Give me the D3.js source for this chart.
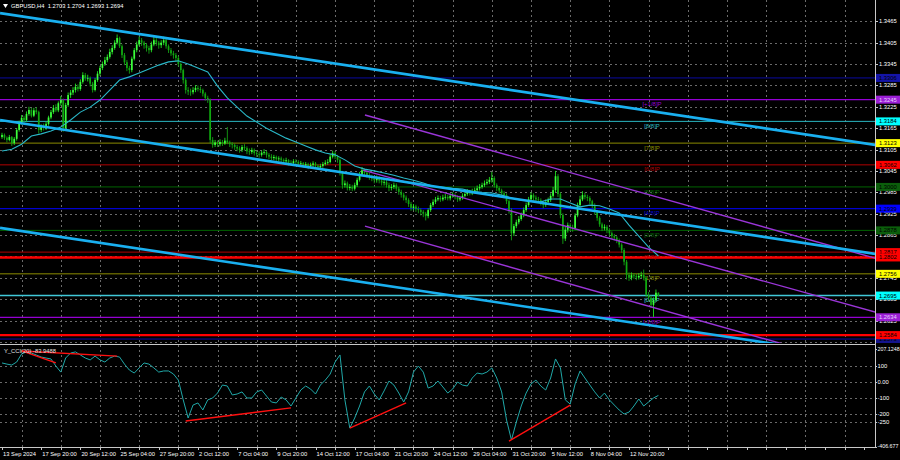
<!DOCTYPE html>
<html><head><meta charset="utf-8">
<script src="https://cdn.jsdelivr.net/npm/d3@7"></script>
<style>body{margin:0;background:#000;overflow:hidden}svg{display:block}text{font-family:"Liberation Sans",Arial,sans-serif}</style>
</head><body><svg id="c" width="900" height="460"></svg>
<script>
// ---------------- DATA ----------------
const symbolTitle = "GBPUSD,H4  1.2703 1.2704 1.2693 1.2694";
const cciTitle = "Y_CCI(20) -83.9488";
const firstOpen = 1.3140;
const closes = [
1.3146,1.3138,1.3132,1.3140,1.3123,1.3135,1.3160,1.3180,1.3194,1.3188,
1.3205,1.3216,1.3200,1.3215,1.3210,1.3160,1.3170,1.3165,1.3177,1.3195,
1.3210,1.3222,1.3215,1.3235,1.3244,1.3165,1.3230,1.3258,1.3265,1.3272,
1.3281,1.3275,1.3295,1.3314,1.3305,1.3306,1.3290,1.3272,1.3300,1.3318,
1.3334,1.3345,1.3356,1.3365,1.3379,1.3390,1.3405,1.3418,1.3395,1.3370,
1.3350,1.3334,1.3328,1.3360,1.3384,1.3400,1.3412,1.3405,1.3398,1.3390,
1.3384,1.3400,1.3412,1.3405,1.3398,1.3405,1.3412,1.3395,1.3384,1.3375,
1.3370,1.3362,1.3345,1.3328,1.3300,1.3272,1.3268,1.3266,1.3272,1.3278,
1.3275,1.3272,1.3262,1.3250,1.3245,1.3132,1.3118,1.3125,1.3120,1.3126,
1.3122,1.3130,1.3125,1.3120,1.3118,1.3112,1.3108,1.3104,1.3112,1.3109,
1.3100,1.3098,1.3104,1.3095,1.3092,1.3090,1.3096,1.3098,1.3090,1.3085,
1.3081,1.3084,1.3078,1.3080,1.3076,1.3072,1.3075,1.3068,1.3067,1.3072,
1.3070,1.3065,1.3067,1.3060,1.3064,1.3058,1.3062,1.3066,1.3060,1.3055,
1.3059,1.3064,1.3068,1.3070,1.3085,1.3095,1.3085,1.3076,1.3040,1.3005,
1.3010,1.2997,1.3000,1.2995,1.3005,1.3020,1.3035,1.3047,1.3040,1.3033,
1.3028,1.3024,1.3019,1.3025,1.3018,1.3012,1.3014,1.3005,1.2997,1.3000,
1.3005,1.2995,1.2986,1.2978,1.2970,1.2963,1.2952,1.2941,1.2945,1.2938,
1.2935,1.2930,1.2925,1.2918,1.2935,1.2949,1.2958,1.2965,1.2969,1.2965,
1.2970,1.2972,1.2968,1.2975,1.2977,1.2972,1.2965,1.2969,1.2975,1.2980,
1.2986,1.2982,1.2988,1.2991,1.2996,1.3000,1.3005,1.3010,1.3014,1.3020,
1.3025,1.3005,1.2997,1.2990,1.2982,1.2977,1.2960,1.2935,1.2870,1.2890,
1.2901,1.2910,1.2921,1.2935,1.2949,1.2965,1.2977,1.2970,1.2965,1.2963,
1.2955,1.2949,1.2958,1.2963,1.2975,1.2991,1.3030,1.2980,1.2921,1.2855,
1.2880,1.2893,1.2885,1.2884,1.2920,1.2949,1.2965,1.2977,1.2972,1.2969,
1.2960,1.2949,1.2930,1.2913,1.2895,1.2884,1.2888,1.2879,1.2870,1.2862,
1.2858,1.2851,1.2838,1.2823,1.2790,1.2753,1.2745,1.2752,1.2750,1.2746,
1.2750,1.2753,1.2745,1.2697,1.2689,1.2669,1.2683,1.2703,1.2694];
const highs = [
1.3152,1.3150,1.3142,1.3146,1.3143,1.3140,1.3165,1.3186,1.3202,1.3200,
1.3212,1.3225,1.3222,1.3222,1.3224,1.3214,1.3176,1.3178,1.3184,1.3200,
1.3216,1.3230,1.3232,1.3240,1.3255,1.3248,1.3236,1.3265,1.3272,1.3280,
1.3290,1.3288,1.3302,1.3322,1.3320,1.3315,1.3310,1.3295,1.3306,1.3325,
1.3340,1.3352,1.3365,1.3372,1.3388,1.3398,1.3412,1.3428,1.3422,1.3400,
1.3376,1.3356,1.3340,1.3366,1.3390,1.3408,1.3422,1.3418,1.3410,1.3404,
1.3396,1.3408,1.3425,1.3418,1.3410,1.3412,1.3422,1.3416,1.3400,1.3390,
1.3382,1.3376,1.3368,1.3350,1.3332,1.3305,1.3280,1.3276,1.3280,1.3286,
1.3285,1.3282,1.3276,1.3266,1.3256,1.3248,1.3140,1.3132,1.3130,1.3134,
1.3132,1.3138,1.3168,1.3130,1.3126,1.3122,1.3118,1.3114,1.3118,1.3120,
1.3114,1.3108,1.3110,1.3108,1.3102,1.3100,1.3102,1.3106,1.3102,1.3095,
1.3092,1.3090,1.3088,1.3086,1.3085,1.3080,1.3082,1.3078,1.3075,1.3078,
1.3078,1.3075,1.3073,1.3070,1.3070,1.3068,1.3068,1.3072,1.3070,1.3064,
1.3065,1.3070,1.3075,1.3078,1.3092,1.3102,1.3100,1.3090,1.3080,1.3045,
1.3018,1.3015,1.3008,1.3006,1.3012,1.3026,1.3042,1.3056,1.3052,1.3046,
1.3040,1.3034,1.3030,1.3032,1.3030,1.3024,1.3022,1.3020,1.3012,1.3008,
1.3012,1.3010,1.3000,1.2992,1.2984,1.2976,1.2968,1.2958,1.2952,1.2950,
1.2945,1.2940,1.2935,1.2930,1.2940,1.2955,1.2965,1.2972,1.2976,1.2975,
1.2978,1.2980,1.2978,1.2982,1.2985,1.2982,1.2976,1.2975,1.2982,1.2988,
1.2994,1.2992,1.2995,1.2998,1.3004,1.3008,1.3012,1.3018,1.3022,1.3028,
1.3042,1.3030,1.3010,1.3002,1.2995,1.2988,1.2982,1.2965,1.2940,1.2896,
1.2908,1.2918,1.2928,1.2942,1.2956,1.2972,1.2985,1.2982,1.2976,1.2972,
1.2968,1.2960,1.2965,1.2970,1.2982,1.3000,1.3045,1.3036,1.2985,1.2926,
1.2888,1.2900,1.2898,1.2894,1.2926,1.2956,1.2975,1.2988,1.2984,1.2978,
1.2974,1.2964,1.2954,1.2935,1.2918,1.2900,1.2895,1.2893,1.2884,1.2875,
1.2868,1.2862,1.2855,1.2842,1.2828,1.2795,1.2760,1.2760,1.2758,1.2756,
1.2758,1.2762,1.2768,1.2750,1.2705,1.2695,1.2690,1.2712,1.2704];
const lows = [
1.3135,1.3132,1.3125,1.3128,1.3115,1.3118,1.3130,1.3155,1.3175,1.3180,
1.3183,1.3200,1.3195,1.3196,1.3204,1.3150,1.3154,1.3158,1.3160,1.3172,
1.3190,1.3205,1.3210,1.3210,1.3228,1.3155,1.3160,1.3225,1.3250,1.3258,
1.3265,1.3268,1.3270,1.3290,1.3298,1.3296,1.3282,1.3265,1.3268,1.3295,
1.3312,1.3328,1.3340,1.3350,1.3360,1.3372,1.3385,1.3400,1.3390,1.3362,
1.3342,1.3325,1.3318,1.3322,1.3355,1.3378,1.3395,1.3396,1.3388,1.3380,
1.3374,1.3378,1.3395,1.3396,1.3388,1.3390,1.3398,1.3388,1.3376,1.3368,
1.3360,1.3352,1.3338,1.3320,1.3290,1.3262,1.3258,1.3256,1.3260,1.3266,
1.3268,1.3264,1.3254,1.3242,1.3236,1.3122,1.3110,1.3112,1.3112,1.3114,
1.3115,1.3118,1.3120,1.3112,1.3108,1.3104,1.3100,1.3096,1.3098,1.3102,
1.3092,1.3090,1.3092,1.3088,1.3084,1.3082,1.3085,1.3090,1.3082,1.3078,
1.3074,1.3075,1.3070,1.3072,1.3068,1.3064,1.3066,1.3060,1.3060,1.3062,
1.3063,1.3058,1.3059,1.3054,1.3055,1.3050,1.3052,1.3056,1.3053,1.3048,
1.3050,1.3054,1.3060,1.3062,1.3066,1.3080,1.3078,1.3068,1.3032,1.2995,
1.2998,1.2990,1.2990,1.2988,1.2990,1.3000,1.3015,1.3030,1.3032,1.3026,
1.3020,1.3016,1.3010,1.3012,1.3010,1.3004,1.3004,1.2998,1.2988,1.2990,
1.2994,1.2988,1.2978,1.2970,1.2962,1.2955,1.2944,1.2933,1.2934,1.2930,
1.2926,1.2920,1.2915,1.2906,1.2912,1.2930,1.2944,1.2952,1.2960,1.2958,
1.2960,1.2964,1.2962,1.2962,1.2970,1.2965,1.2958,1.2960,1.2964,1.2970,
1.2975,1.2976,1.2977,1.2982,1.2986,1.2990,1.2995,1.3000,1.3005,1.3008,
1.3012,1.2998,1.2988,1.2982,1.2975,1.2968,1.2952,1.2925,1.2850,1.2862,
1.2884,1.2895,1.2905,1.2915,1.2930,1.2944,1.2960,1.2962,1.2956,1.2955,
1.2948,1.2940,1.2944,1.2952,1.2958,1.2970,1.2985,1.2972,1.2912,1.2840,
1.2848,1.2872,1.2876,1.2874,1.2880,1.2915,1.2944,1.2960,1.2965,1.2960,
1.2952,1.2940,1.2922,1.2905,1.2888,1.2876,1.2878,1.2870,1.2862,1.2854,
1.2850,1.2842,1.2830,1.2815,1.2780,1.2740,1.2736,1.2738,1.2742,1.2738,
1.2740,1.2744,1.2738,1.2690,1.2680,1.2660,1.2635,1.2678,1.2693];
// moving average, one value every 4 bars
const maValues = [
1.3101,1.3106,1.3120,1.3143,1.3149,1.3157,1.3168,1.3188,1.3210,1.3224,
1.3244,1.3272,1.3300,1.3309,1.3320,1.3331,1.3342,1.3351,1.3354,1.3345,
1.3334,1.3323,1.3283,1.3250,1.3224,1.3199,1.3182,1.3165,1.3151,1.3137,
1.3126,1.3115,1.3104,1.3095,1.3090,1.3076,1.3059,1.3050,1.3045,1.3039,
1.3033,1.3025,1.3019,1.3011,1.3002,1.2999,1.2996,1.2994,1.2988,1.2985,
1.2983,1.2977,1.2969,1.2963,1.2961,1.2958,1.2966,1.2966,1.2955,1.2944,
1.2949,1.2947,1.2938,1.2927,1.2893,1.2862,1.2831,1.2806];
// CCI(20), one value every 2 bars
const cciValues = [
119,112,106,125,175,188,181,169,156,150,
144,100,62,150,181,188,169,150,138,162,
138,125,150,162,156,112,75,56,88,119,
112,88,62,69,69,50,12,-112,-225,-144,
-131,-175,-112,-100,-69,-19,-25,-81,-75,-62,
-100,-100,-62,-50,-88,-125,-131,-94,-112,-150,
-100,-50,-25,-44,-75,-19,12,50,125,169,
-112,-288,-225,-150,-62,-25,-75,-112,-56,6,
-19,-69,-125,-62,62,100,62,-38,-25,6,
-31,-69,-44,0,-19,-25,25,56,50,62,
88,25,-62,-238,-362,-250,-150,-69,-12,12,
-25,-50,25,144,88,-112,-138,-12,69,25,
-19,-62,-100,-69,-112,-144,-175,-200,-188,-150,
-106,-150,-125,-100,-83.9488];
const priceTicks = [1.3465,1.3405,1.3345,1.3285,1.3225,1.3165,1.3105,1.3045,1.2985,1.2925,1.2865,1.2805,1.2745,1.2685,1.2625,1.2565];
const priceTickShown = [true,true,true,true,true,true,true,true,true,true,true,false,true,true,true,false];
const cciTicks = [207.1248,100,0,-100,-200,-250,-406.677];
const cciTickLabels = ["207.1248","100","0.00","-100","-200","-250","-406.677"];
const cciGridLevels = [100,0,-100,-200,-250];
const dateBars = [0,16,32,48,64,80,96,112,128,144,160,176,192,208,224,240,256];
const dateLabels = ["13 Sep 2024","17 Sep 20:00","20 Sep 12:00","25 Sep 04:00","27 Sep 20:00","2 Oct 12:00","7 Oct 04:00","9 Oct 20:00","14 Oct 12:00","17 Oct 04:00","21 Oct 20:00","24 Oct 12:00","29 Oct 04:00","31 Oct 20:00","5 Nov 12:00","8 Nov 04:00","12 Nov 20:00"];
// Murrey math levels
const mmPrices = [1.3306,1.3245,1.3184,1.3123,1.3062,1.3000,1.2939,1.2878,1.2817,1.2756,1.2695,1.2634,1.2573];
const mmNames  = ["+2/8","+1/8","8/8","7/8","6/8","5/8","4/8","3/8","2/8","1/8","0/8","-1/8","-2/8"];
const mmShowName = [false,true,true,true,true,true,true,true,true,true,true,true,false];
const srPrices = [1.2802,1.2584];
// trend channels: [bar, price] end points
const blueLines = [[[-0.8,1.3488],[356.5,1.3118]],[[-0.8,1.3188],[356.5,1.2812]],[[-0.8,1.2885],[356.5,1.2517]]];
const purpleLines = [[[148.2,1.3202],[356.5,1.2800]],[[147.4,1.3047],[356.5,1.2649]],[[148.2,1.2890],[356.5,1.2486]]];
// CCI divergence lines: [bar, cci]
const cciRedLines = [[[8,194],[47,162]],[[8,194],[22,119]],[[75,-244],[118,-162]],[[142,-288],[165,-131]],[[207,-369],[232,-144]]];

// ---------------- STYLES ----------------
const mmLineColor = ["#0a0aa0","#9400d3","#28b4c0","#8c8c00","#b00000","#006400","#0000d0","#006400","#b00000","#8c8c00","#40c8d8","#9400d3","#0a0aa0"];
const mmLineWidth = [1,1.3,1,1,1,1,1.2,1,1,1,1.4,1.3,1];
const mmBoxColor  = ["#1414a8","#9b1fd6","#00ffff","#ffff00","#ff0000","#0b5e0b","#0000ff","#0b5e0b","#ff0000","#ffff00","#00ffff","#9b1fd6","#14148c"];
const mmBoxText   = ["#000","#e8d0ff","#000","#000","#000","#000","#000","#000","#000","#000","#000","#e8d0ff","#000"];

// ---------------- DRAW ----------------
const svg = d3.select("#c");
const AX = 875, MAIN_B = 343, CCI_T = 345, CCI_B = 447;
const x = d3.scaleLinear().domain([0,256]).range([2,629]);
const y = d3.scaleLinear().domain([1.3465,1.2625]).range([21.3,320.5]);
const yc = d3.scaleLinear().domain([207.1248,-406.677]).range([348.86,447.07]);
const FS = 5.8;

svg.append("rect").attr("width",900).attr("height",460).attr("fill","#000");
const defs = svg.append("defs");
defs.append("clipPath").attr("id","cm").append("rect").attr("x",0).attr("y",0).attr("width",AX).attr("height",MAIN_B);
defs.append("clipPath").attr("id","cc").append("rect").attr("x",0).attr("y",CCI_T).attr("width",AX).attr("height",CCI_B-CCI_T);

const gm = svg.append("g").attr("clip-path","url(#cm)");
const gc = svg.append("g").attr("clip-path","url(#cc)");

// grid
const gridBars = d3.range(8, 360, 16);
const gridStyle = s => s.attr("stroke","#6a6a6a").attr("stroke-width",1).attr("stroke-dasharray","2,3").attr("shape-rendering","crispEdges");
gm.selectAll(".vg").data(gridBars).join("line").attr("x1",d=>Math.round(x(d))+0.5).attr("x2",d=>Math.round(x(d))+0.5).attr("y1",0).attr("y2",MAIN_B).call(gridStyle);
gm.selectAll(".hg").data(priceTicks).join("line").attr("x1",0).attr("x2",AX).attr("y1",d=>Math.round(y(d))+0.5).attr("y2",d=>Math.round(y(d))+0.5).call(gridStyle);
gc.selectAll(".vg").data(gridBars).join("line").attr("x1",d=>Math.round(x(d))+0.5).attr("x2",d=>Math.round(x(d))+0.5).attr("y1",CCI_T).attr("y2",CCI_B).call(gridStyle);
gc.selectAll(".hg").data(cciGridLevels).join("line").attr("x1",0).attr("x2",AX).attr("y1",d=>Math.round(yc(d))+0.5).attr("y2",d=>Math.round(yc(d))+0.5).call(gridStyle);

// Murrey levels
gm.selectAll(".mm").data(mmPrices).join("line").attr("x1",0).attr("x2",AX)
  .attr("y1",d=>y(d)).attr("y2",d=>y(d))
  .attr("stroke",(d,i)=>mmLineColor[i]).attr("stroke-width",(d,i)=>mmLineWidth[i]);
gm.selectAll(".sr").data(srPrices).join("line").attr("x1",0).attr("x2",AX)
  .attr("y1",d=>y(d)).attr("y2",d=>y(d)).attr("stroke","#ff0000").attr("stroke-width",2.4);
gm.selectAll(".mmt").data(mmPrices.map((p,i)=>({p,i})).filter(d=>mmShowName[d.i])).join("text")
  .attr("x",652).attr("y",d=>y(d.p)+6.6).attr("text-anchor","middle")
  .attr("font-size",6).attr("fill",d=>mmLineColor[d.i]).text(d=>"["+mmNames[d.i]+"]P");

// candles
const bars = closes.map((c,i)=>({i,o:i?closes[i-1]:firstOpen,c,h:highs[i],l:lows[i]}));
const cg = gm.append("g");
cg.selectAll(".wk").data(bars).join("line")
  .attr("x1",d=>x(d.i)).attr("x2",d=>x(d.i)).attr("y1",d=>y(d.h)).attr("y2",d=>y(d.l))
  .attr("stroke",d=>d.c>=d.o?"#20e020":"#14a014").attr("stroke-width",0.9);
cg.selectAll(".bd").data(bars).join("rect")
  .attr("x",d=>x(d.i)-0.85).attr("width",1.7)
  .attr("y",d=>Math.min(y(d.o),y(d.c))).attr("height",d=>Math.max(0.8,Math.abs(y(d.o)-y(d.c))))
  .attr("fill",d=>d.c>=d.o?"#3cff3c":"#10a810");

// moving average
gm.append("path").datum(maValues)
  .attr("d",d3.line().x((d,i)=>x(i*4)).y(d=>y(d)))
  .attr("fill","none").attr("stroke","#2ab8c8").attr("stroke-width",1.1);

// channels
const tl = d3.line().x(d=>x(d[0])).y(d=>y(d[1]));
gm.selectAll(".pl").data(purpleLines).join("path").attr("d",tl).attr("fill","none").attr("stroke","#9a35d8").attr("stroke-width",1.4);
gm.selectAll(".bl").data(blueLines).join("path").attr("d",tl).attr("fill","none").attr("stroke","#1ab0f0").attr("stroke-width",2.6);

// CCI
gc.append("path").datum(cciValues)
  .attr("d",d3.line().x((d,i)=>x(i*2)).y(d=>yc(d)))
  .attr("fill","none").attr("stroke","#20a8a8").attr("stroke-width",1);
const cl = d3.line().x(d=>x(d[0])).y(d=>yc(d[1]));
gc.selectAll(".rl").data(cciRedLines).join("path").attr("d",cl).attr("fill","none").attr("stroke","#ff1010").attr("stroke-width",1.4);

// frame
const frame = svg.append("g").attr("stroke","#c8c8c8").attr("stroke-width",1).attr("shape-rendering","crispEdges");
frame.append("line").attr("x1",AX+0.5).attr("x2",AX+0.5).attr("y1",0).attr("y2",CCI_B+0.5);
frame.append("line").attr("x1",0).attr("x2",AX+0.5).attr("y1",CCI_B+0.5).attr("y2",CCI_B+0.5);
frame.append("line").attr("x1",0).attr("x2",AX+0.5).attr("y1",MAIN_B+1.5).attr("y2",MAIN_B+1.5);

// right price axis
const ra = svg.append("g");
ra.selectAll("line").data(priceTicks).join("line").attr("x1",AX).attr("x2",AX+3)
  .attr("y1",d=>Math.round(y(d))+0.5).attr("y2",d=>Math.round(y(d))+0.5).attr("stroke","#c8c8c8");
ra.selectAll("text").data(priceTicks.filter((d,i)=>priceTickShown[i])).join("text").attr("x",AX+4).attr("y",d=>y(d)+2)
  .attr("font-size",FS).attr("fill","#fff").text(d=>d.toFixed(4));

// level price boxes
const boxes = mmPrices.map((p,i)=>({p,bg:mmBoxColor[i],fg:mmBoxText[i]}))
  .concat(srPrices.map(p=>({p,bg:"#ff0000",fg:"#000"})));
const bx = svg.append("g").selectAll("g").data(boxes).join("g");
bx.append("rect").attr("x",AX+1).attr("width",24).attr("y",d=>y(d.p)-4).attr("height",8).attr("fill",d=>d.bg);
bx.append("text").attr("x",AX+4).attr("y",d=>y(d.p)+2).attr("font-size",FS).attr("fill",d=>d.fg).text(d=>d.p.toFixed(4));

// CCI axis
const ca = svg.append("g");
ca.selectAll("line").data(cciTicks).join("line").attr("x1",AX).attr("x2",AX+2)
  .attr("y1",d=>Math.round(yc(d))+0.5).attr("y2",d=>Math.round(yc(d))+0.5).attr("stroke","#c8c8c8");
ca.selectAll("text").data(cciTicks).join("text").attr("x",AX+2.5).attr("y",(d,i)=>i===0?yc(d)+2.5:(i===cciTicks.length-1?yc(d)+1:yc(d)+2))
  .attr("font-size",(d,i)=>(i===0||i===cciTicks.length-1)?5.3:FS).attr("fill","#fff").text((d,i)=>cciTickLabels[i]);

// time axis
const ta = svg.append("g");
ta.selectAll("line").data(d3.range(0,356,8)).join("line")
  .attr("x1",d=>Math.round(x(d))+0.5).attr("x2",d=>Math.round(x(d))+0.5)
  .attr("y1",CCI_B).attr("y2",CCI_B+3).attr("stroke","#c8c8c8").attr("shape-rendering","crispEdges");
ta.selectAll("text").data(dateBars).join("text").attr("x",d=>x(d)+1).attr("y",455.5)
  .attr("font-size",FS).attr("fill","#fff").text((d,i)=>dateLabels[i]);

// titles
svg.append("path").attr("d","M3,4 L8,4 L5.5,8 Z").attr("fill","#fff");
svg.append("text").attr("x",11).attr("y",8.3).attr("font-size",FS).attr("fill","#fff").attr("xml:space","preserve").style("white-space","pre").text(symbolTitle);
svg.append("text").attr("x",4).attr("y",352.5).attr("font-size",FS).attr("fill","#e0e0e0").text(cciTitle);
</script></body></html>
